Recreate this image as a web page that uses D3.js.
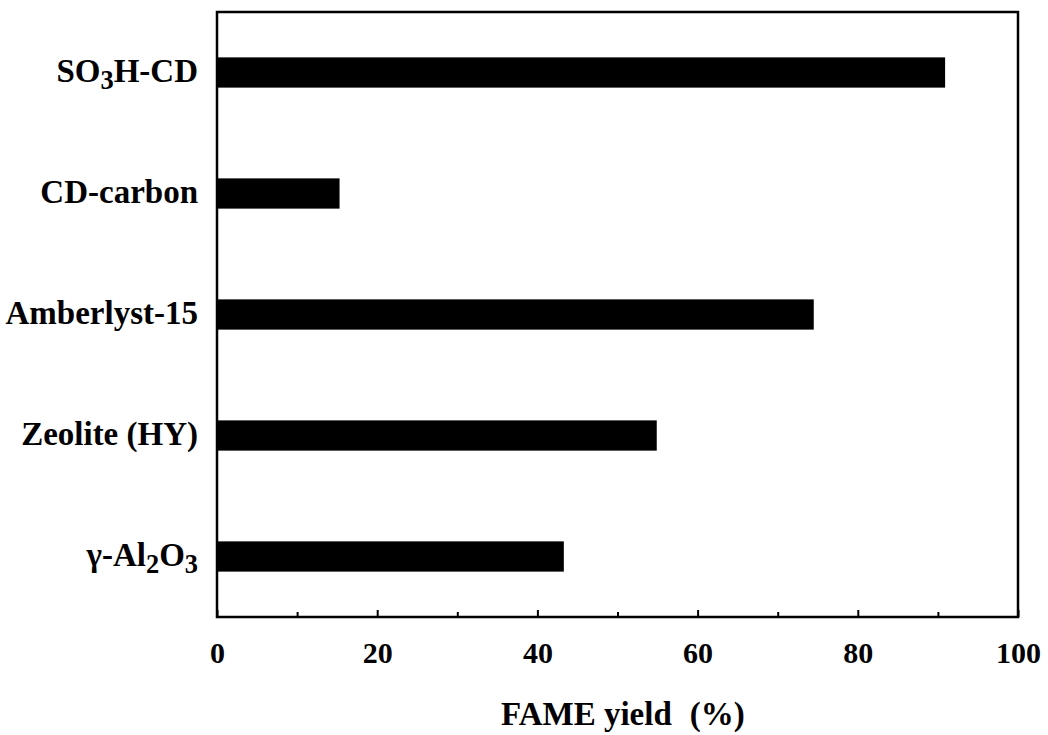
<!DOCTYPE html>
<html>
<head>
<meta charset="utf-8">
<script src="https://cdn.jsdelivr.net/npm/d3@7"></script>
<style>
  html, body { margin: 0; padding: 0; background: #fff; }
  svg { display: block; }
  text { font-family: "Liberation Serif", "Times New Roman", serif; font-weight: bold; fill: #000; }
</style>
</head>
<body>
<svg id="chart" width="1048" height="735"></svg>
<script>
// Catalysts (top to bottom) and their FAME yields (%)
const catalysts = ["SO3H-CD", "CD-carbon", "Amberlyst-15", "Zeolite (HY)", "γ-Al2O3"];
const yields = [90.9, 15.3, 74.5, 54.9, 43.3];
const tickValues = [0, 10, 20, 30, 40, 50, 60, 70, 80, 90, 100];
const labeledTicks = [0, 20, 40, 60, 80, 100];
const xTitle = "FAME yield";
const xUnit = "(%)";

const margin = { left: 217, right: 30, top: 12, bottom: 118 };
const W = 1048, H = 735;
const innerW = W - margin.left - margin.right;
const innerH = H - margin.top - margin.bottom;

const svg = d3.select("#chart");
const g = svg.append("g").attr("transform", `translate(${margin.left},${margin.top})`);

const x = d3.scaleLinear().domain([0, 100]).range([0, innerW]);
const y = d3.scaleBand().domain(catalysts).range([0, innerH])
  .paddingInner(0.75).paddingOuter(0.375);

// Bars
g.selectAll("rect.bar")
  .data(catalysts.map((c, i) => ({ c, v: yields[i] })))
  .join("rect")
  .attr("class", "bar")
  .attr("x", x(0))
  .attr("y", d => y(d.c))
  .attr("width", d => x(d.v) - x(0))
  .attr("height", y.bandwidth())
  .attr("fill", "#000");

// Bottom axis with inward ticks; minor ticks are shorter and unlabeled
const xAxis = d3.axisBottom(x)
  .tickValues(tickValues)
  .tickSize(-7)
  .tickFormat(d => labeledTicks.includes(d) ? d : "");
const ax = g.append("g").attr("transform", `translate(0,${innerH})`).call(xAxis);
ax.select(".domain").remove();
ax.selectAll(".tick line")
  .attr("stroke", "#000")
  .attr("stroke-width", 2)
  .attr("y2", d => labeledTicks.includes(d) ? -7 : -5);
ax.selectAll(".tick text")
  .attr("y", 46)
  .attr("dy", 0)
  .attr("font-size", 30)
  .attr("fill", "#000");

// Frame
g.append("rect")
  .attr("x", 0).attr("y", 0)
  .attr("width", innerW).attr("height", innerH)
  .attr("fill", "none")
  .attr("stroke", "#000")
  .attr("stroke-width", 2.5);

// Category labels, digits following a letter set as subscripts
function addLabel(sel, name) {
  const parts = name.split(/(?<=[A-Za-z])(\d+)/);
  parts.forEach((p, i) => {
    if (!p) return;
    const isSub = i % 2 === 1;
    const t = sel.append("tspan").text(p);
    if (isSub) {
      t.attr("font-size", "80%").attr("dy", 7);
    } else if (i > 0 && parts[i - 1] && /\d/.test(parts[i - 1])) {
      t.attr("dy", -7);
    }
  });
}
catalysts.forEach(c => {
  const t = g.append("text")
    .attr("x", -19)
    .attr("y", y(c) + y.bandwidth() / 2 + 9)
    .attr("text-anchor", "end")
    .attr("font-size", 33);
  addLabel(t, c);
});

// Axis title
const title = svg.append("text")
  .attr("x", 501)
  .attr("y", 725)
  .attr("font-size", 33);
title.append("tspan").text(xTitle);
title.append("tspan").attr("dx", 18).text(xUnit);
</script>
</body>
</html>
